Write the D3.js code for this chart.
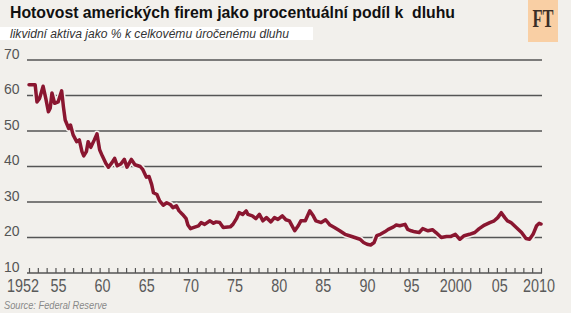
<!DOCTYPE html>
<html>
<head>
<meta charset="utf-8">
<script src="https://cdn.jsdelivr.net/npm/d3@7/dist/d3.min.js"></script>
<style>
html,body{margin:0;padding:0;background:#f2f0ec;}
svg{display:block;}
</style>
</head>
<body>
<svg id="chart" width="571" height="313"></svg>
<script>
const titleText = "Hotovost amerických firem jako procentuální podíl k  dluhu";
const subtitleText = "likvidní aktiva jako % k celkovému úročenému dluhu";
const sourceText = "Source: Federal Reserve";
const logoText = "FT";

const years = [1952.0,1952.7,1952.9,1953.2,1953.6,1953.9,1954.2,1954.4,1954.6,1954.9,
1955.3,1955.7,1955.9,1956.1,1956.5,1956.7,1957.0,1957.4,1957.7,1958.0,
1958.2,1958.5,1958.7,1959.0,1959.4,1959.7,1960.0,1960.3,1960.7,1961.0,
1961.4,1961.7,1962.0,1962.4,1962.8,1963.1,1963.6,1964.0,1964.6,1964.9,
1965.3,1965.6,1965.9,1966.1,1966.5,1966.8,1967.2,1967.6,1968.0,1968.3,
1968.7,1969.0,1969.4,1969.8,1970.0,1970.3,1970.6,1971.2,1971.5,1971.9,
1972.5,1972.9,1973.2,1973.6,1974.0,1974.8,1975.1,1975.5,1975.8,1976.2,
1976.6,1976.8,1977.3,1977.7,1978.1,1978.5,1978.9,1979.4,1979.8,1980.2,
1980.7,1981.1,1981.5,1982.1,1982.5,1982.8,1983.3,1983.8,1984.2,1984.5,
1985.1,1985.6,1986.1,1986.6,1987.2,1987.8,1988.3,1988.9,1989.5,1989.9,
1990.3,1990.7,1991.1,1991.4,1991.8,1992.3,1992.7,1993.3,1993.6,1994.0,
1994.6,1994.9,1995.3,1995.7,1996.2,1996.6,1997.2,1997.7,1998.1,1998.7,
1999.3,1999.8,2000.3,2000.8,2001.3,2001.9,2002.5,2003.0,2003.6,2004.2,
2004.7,2005.1,2005.5,2005.9,2006.2,2006.6,2007.2,2007.8,2008.3,2008.7,
2009.1,2009.5,2009.8,2010.0];
const values = [63.0,63.0,58.2,59.2,62.6,59.2,55.4,56.4,60.7,57.8,
58.2,61.3,56.8,53.1,50.7,51.7,48.9,47.0,47.5,44.2,
43.0,44.2,47.0,45.4,47.5,49.2,44.7,43.0,40.9,39.8,
41.1,42.3,40.2,40.7,42.0,39.8,42.0,40.5,40.0,39.1,
37.0,37.2,34.9,32.6,32.1,30.3,29.1,29.8,29.3,28.4,
28.9,27.5,26.5,25.3,23.5,22.5,22.8,23.3,24.2,23.7,
24.7,24.0,24.4,24.2,22.8,23.0,23.7,25.3,27.0,26.5,
27.5,26.5,26.1,25.3,26.5,24.7,25.6,24.4,25.6,25.1,
26.1,25.0,24.7,21.9,23.3,24.7,24.7,27.5,26.1,24.7,
24.2,25.0,23.5,22.8,21.9,20.9,20.5,20.0,19.5,18.6,
18.1,17.9,18.6,20.5,20.9,21.6,22.3,23.0,23.5,23.3,
23.7,22.3,21.9,21.6,21.4,22.5,21.9,22.2,21.4,20.0,
20.3,20.3,20.9,19.5,20.5,20.9,21.4,22.5,23.5,24.2,
24.7,25.6,27.0,25.6,24.7,24.2,22.8,21.4,19.7,19.5,
20.9,23.3,24.0,23.8];

const yTicks = [10,20,30,40,50,60,70];
const xLabelYears = [1952,1955,1960,1965,1970,1975,1980,1985,1990,1995,2000,2005,2010];
const xLabelTexts = ["1952","55","60","65","70","75","80","85","90","95","2000","05","2010"];

const svg = d3.select("#chart");
const W = 571, H = 313;
svg.append("rect").attr("width", W).attr("height", H).attr("fill", "#f2f0ec");

const x = d3.scaleLinear().domain([1952, 2010]).range([29, 541]);
const y = d3.scaleLinear().domain([10, 70]).range([273, 60]);

// subtitle white strip
svg.append("rect").attr("x", 0).attr("y", 27).attr("width", 313).attr("height", 13).attr("fill", "#ffffff");

// title
svg.append("text").attr("x", 10).attr("y", 18.3)
  .attr("font-family", "'Liberation Sans', Arial, sans-serif")
  .attr("font-weight", "bold").attr("font-size", 16).attr("fill", "#111")
  .attr("textLength", 445).attr("lengthAdjust", "spacingAndGlyphs")
  .style("white-space", "pre")
  .text(titleText);

svg.append("text").attr("x", 10).attr("y", 38)
  .attr("font-family", "'Liberation Sans', Arial, sans-serif")
  .attr("font-style", "italic").attr("font-size", 12.5).attr("fill", "#333")
  .attr("textLength", 279).attr("lengthAdjust", "spacingAndGlyphs")
  .text(subtitleText);

// FT logo
svg.append("rect").attr("x", 528).attr("y", 0).attr("width", 30).attr("height", 42).attr("fill", "#f9cfa4");
svg.append("text").attr("x", 543).attr("y", 27).attr("text-anchor", "middle")
  .attr("font-family", "'Liberation Serif', 'Times New Roman', serif")
  .attr("font-weight", "bold").attr("font-size", 25).attr("fill", "#3b2e26")
  .attr("textLength", 21).attr("lengthAdjust", "spacingAndGlyphs")
  .text(logoText);

// gridlines
svg.append("g").selectAll("line").data(yTicks).join("line")
  .attr("x1", 27).attr("x2", 542)
  .attr("y1", d => y(d)).attr("y2", d => y(d))
  .attr("stroke", "#555").attr("stroke-width", 1.5);

// y labels
svg.append("g").selectAll("text").data(yTicks).join("text")
  .attr("x", 4).attr("y", d => y(d) - 1.5)
  .attr("font-family", "'Liberation Sans', Arial, sans-serif")
  .attr("font-size", 14).attr("fill", "#555")
  .text(d => d);

// x ticks (yearly, upward)
const xAxis = d3.axisTop(x).tickValues(d3.range(1952, 2011)).tickSize(5).tickFormat("");
const gx = svg.append("g").attr("transform", `translate(0,${y(10)})`).call(xAxis);
gx.select(".domain").remove();
gx.selectAll("line").attr("stroke", "#555").attr("stroke-width", 1.2);

// x labels
svg.append("g").selectAll("text").data(xLabelYears).join("text")
  .attr("x", (d, i) => x(d) + (i === 0 ? -6 : (i === xLabelYears.length - 1 ? -2 : 3)))
  .attr("y", 292)
  .attr("text-anchor", "middle")
  .attr("font-family", "'Liberation Sans', Arial, sans-serif")
  .attr("font-size", 19).attr("fill", "#5a5a5a")
  .attr("textLength", (d, i) => xLabelTexts[i].length * 8)
  .attr("lengthAdjust", "spacingAndGlyphs")
  .text((d, i) => xLabelTexts[i]);

// data line
const pts = years.map((yr, i) => [yr, values[i]]);
const line = d3.line().x(d => x(d[0])).y(d => y(d[1]));
svg.append("path").datum(pts).attr("d", line)
  .attr("fill", "none").attr("stroke", "#f2f0ec").attr("stroke-width", 6.5)
  .attr("stroke-linejoin", "round");
svg.append("path").datum(pts).attr("d", line)
  .attr("fill", "none").attr("stroke", "#8a1630").attr("stroke-width", 3.5)
  .attr("stroke-linejoin", "round").attr("stroke-linecap", "round");

// source
svg.append("text").attr("x", 4).attr("y", 309)
  .attr("font-family", "'Liberation Sans', Arial, sans-serif")
  .attr("font-style", "italic").attr("font-size", 11).attr("fill", "#888")
  .attr("textLength", 103).attr("lengthAdjust", "spacingAndGlyphs")
  .text(sourceText);
</script>
</body>
</html>
